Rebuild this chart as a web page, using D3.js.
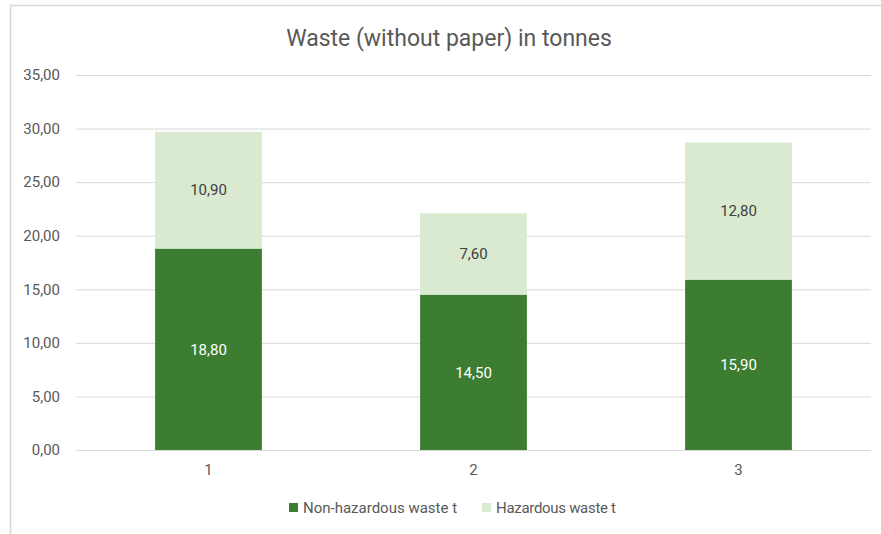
<!DOCTYPE html>
<html><head><meta charset="utf-8">
<script src="https://cdn.jsdelivr.net/npm/d3@7"></script>
<style>body{margin:0;background:#fff;}svg{display:block;font-family:Roboto, "Noto Sans", sans-serif;}</style>
</head><body>
<svg id="c" width="881" height="534"></svg>
<script>
const categories = ["1","2","3"];
const seriesNames = ["Non-hazardous waste t","Hazardous waste t"];
const nonHazardous = [18.8, 14.5, 15.9];
const hazardous = [10.9, 7.6, 12.8];
const yTicks = [0,5,10,15,20,25,30,35];
const title = "Waste (without paper) in tonnes";
const colors = ["#3D7D32","#DAEAD1"];

const svg = d3.select("#c");
// chart frame
svg.append("rect").attr("x",10.5).attr("y",5.5).attr("width",900).attr("height",600)
  .attr("fill","#fff").attr("stroke","#d9d9d9").attr("stroke-width",1.5);

const m = {left:76, right:871, top:75, bottom:450};
const x = d3.scaleBand().domain(categories).range([m.left, m.right]).padding(0);
const y = d3.scaleLinear().domain([0,35]).range([m.bottom, m.top]);
const fmt = v => d3.format(".2f")(v).replace(".", ",");

// gridlines
svg.append("g").selectAll("line").data(yTicks).join("line")
  .attr("x1",m.left).attr("x2",m.right)
  .attr("y1",d=>y(d)+0.5).attr("y2",d=>y(d)+0.5)
  .attr("stroke","#d9d9d9").attr("stroke-width",1);

// y axis labels
const yAxis = d3.axisLeft(y).tickValues(yTicks).tickFormat(fmt).tickSize(0).tickPadding(16);
const ya = svg.append("g").attr("transform",`translate(${m.left},0)`).call(yAxis);
ya.select(".domain").remove();
ya.selectAll("text").attr("fill","#595959").style("font-size","15px").style("font-family","Roboto");

// x axis labels
const xAxis = d3.axisBottom(x).tickSize(0).tickPadding(14);
const xa = svg.append("g").attr("transform",`translate(0,${m.bottom})`).call(xAxis);
xa.select(".domain").remove();
xa.selectAll("text").attr("fill","#595959").style("font-size","15px").style("font-family","Roboto");

const stackData = categories.map((c,i)=>({cat:c, a:nonHazardous[i], b:hazardous[i]}));
const stack = d3.stack().keys(["a","b"])(stackData);
const bw = x.bandwidth()*0.403;

stack.forEach((layer, li) => {
  const g = svg.append("g");
  g.selectAll("rect").data(layer).join("rect")
    .attr("x", d => x(d.data.cat) + x.bandwidth()/2 - bw/2)
    .attr("width", bw)
    .attr("y", d => y(d[1]))
    .attr("height", d => y(d[0]) - y(d[1]))
    .attr("fill", colors[li]);
  g.selectAll("text").data(layer).join("text")
    .attr("x", d => x(d.data.cat) + x.bandwidth()/2)
    .attr("y", d => (y(d[0]) + y(d[1]))/2)
    .attr("dy","0.35em")
    .attr("text-anchor","middle")
    .attr("fill", li===0 ? "#ffffff" : "#404040")
    .style("font-size","15px")
    .text(d => fmt(d[1]-d[0]));
});

// title
svg.append("text").attr("x",449).attr("y",38).attr("dy","0.35em").attr("text-anchor","middle")
  .attr("fill","#595959").style("font-size","23px").text(title);

// legend
const legendX = [289, 482];
const lg = svg.append("g");
seriesNames.forEach((n,i)=>{
  lg.append("rect").attr("x",legendX[i]).attr("y",503).attr("width",9).attr("height",9).attr("fill",colors[i]);
  lg.append("text").attr("x",legendX[i]+14).attr("y",507.5).attr("dy","0.35em")
    .attr("fill","#595959").style("font-size","15px")
    .style("letter-spacing", i===0 ? "0px" : "-0.3px").text(n);
});
</script>
</body></html>
